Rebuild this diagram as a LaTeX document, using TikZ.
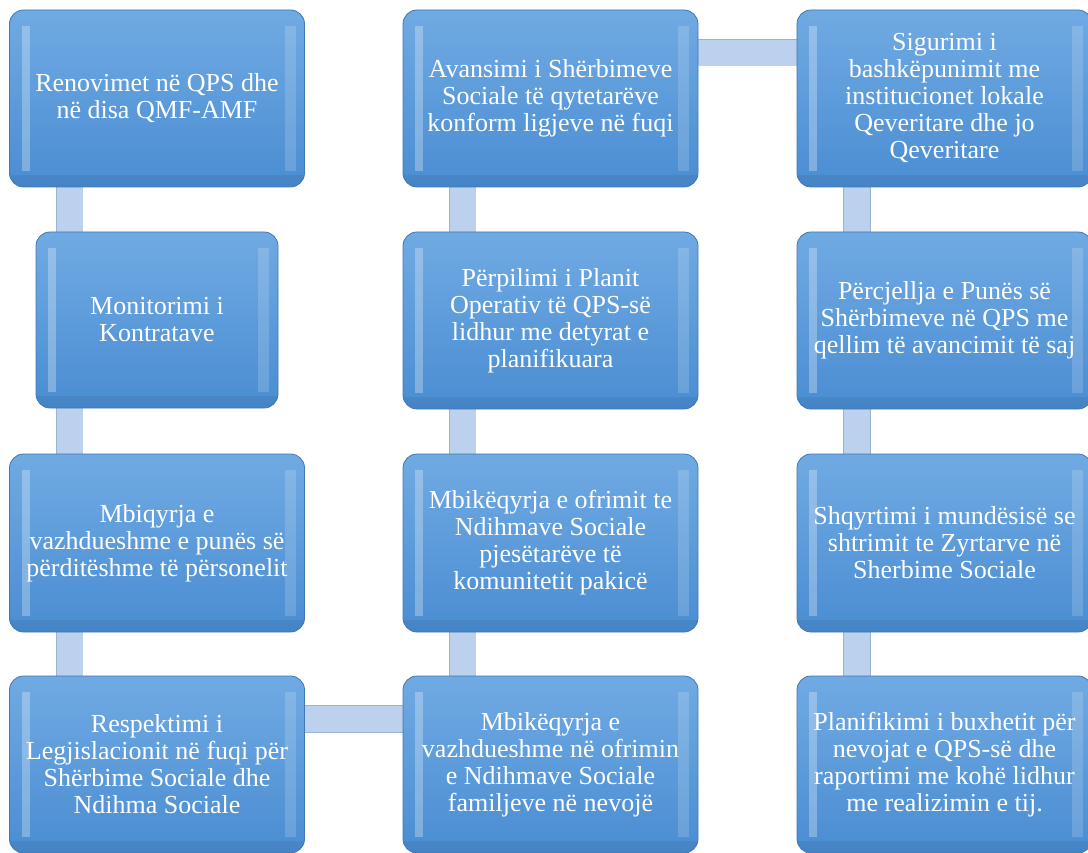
\documentclass[tikz,border=0pt]{standalone}
\usepackage{fontspec}
\setmainfont{Liberation Serif}
\usetikzlibrary{backgrounds}

\definecolor{boxtop}{HTML}{70AAE3}
\definecolor{boxbot}{HTML}{4A8DD2}
\definecolor{boxline}{HTML}{3F78B2}
\definecolor{barfill}{HTML}{BBD1EE}
\definecolor{barline}{HTML}{9AB4D7}

\begin{document}
\begin{tikzpicture}[x=1pt,y=-1pt,
  card/.style={rounded corners=14pt, draw=boxline, line width=0.8pt,
    top color=boxtop, bottom color=boxbot, text=white, align=center,
    inner sep=0pt, font=\fontsize{26}{27}\selectfont,
    minimum width=295pt, minimum height=177pt,
    path picture={
      \fill[sharp corners,white,opacity=0.28] ([xshift=12pt,yshift=-16pt]path picture bounding box.north west) rectangle ([xshift=20pt,yshift=16pt]path picture bounding box.south west);
      \fill[sharp corners,white,opacity=0.16] ([xshift=-20pt,yshift=-16pt]path picture bounding box.north east) rectangle ([xshift=-9pt,yshift=16pt]path picture bounding box.south east);
      \fill[sharp corners,black,opacity=0.06] ([yshift=12pt]path picture bounding box.south west) rectangle (path picture bounding box.south east);
    }},
  bar/.style={draw=barline, line width=0.8pt, double=barfill, double distance=26pt}]
  % page frame
  \clip (0,0) rectangle (1088,853);
  % column lines of the connectors
  \coordinate (k1) at (69.5,0);
  \coordinate (k2) at (462.5,0);
  \coordinate (k3) at (857,0);
  % first column
  \node[card] (r1c1) at (157,98.5) {Renovimet në QPS dhe\\në disa QMF-AMF};
  \node[card, minimum width=242pt, minimum height=176pt] (r2c1) at (157,320) {Monitorimi i\\Kontratave};
  \node[card, minimum height=178pt] (r3c1) at (157,543) {Mbiqyrja e\\vazhdueshme e punës së\\përditëshme të përsonelit};
  \node[card] (r4c1) at (157,764.5) {Respektimi i\\Legjislacionit në fuqi për\\Shërbime Sociale dhe\\Ndihma Sociale};
  % second column
  \node[card] (r1c2) at (550.5,98.5) {Avansimi i Shërbimeve\\Sociale të qytetarëve\\konform ligjeve në fuqi};
  \node[card] (r2c2) at (550.5,320.5) {Përpilimi i Planit\\Operativ të QPS-së\\lidhur me detyrat e\\planifikuara};
  \node[card, minimum height=178pt] (r3c2) at (550.5,543) {Mbikëqyrja e ofrimit te\\Ndihmave Sociale\\pjesëtarëve të\\komunitetit pakicë};
  \node[card] (r4c2) at (550.5,764.5) {Mbikëqyrja e\\vazhdueshme në ofrimin\\e Ndihmave Sociale\\familjeve në nevojë};
  % third column
  \node[card] (r1c3) at (944.5,98.5) {Sigurimi i\\bashkëpunimit me\\institucionet lokale\\Qeveritare dhe jo\\Qeveritare};
  \node[card] (r2c3) at (944.5,320.5) {Përcjellja e Punës së\\Shërbimeve në QPS me\\qellim të avancimit të saj};
  \node[card, minimum height=178pt] (r3c3) at (944.5,543) {Shqyrtimi i mundësisë se\\shtrimit te Zyrtarve në\\Sherbime Sociale};
  \node[card] (r4c3) at (944.5,764.5) {Planifikimi i buxhetit për\\nevojat e QPS-së dhe\\raportimi me kohë lidhur\\me realizimin e tij.};
  % connectors behind the cards
  \begin{scope}[on background layer]
    \draw[bar] (k1 |- r1c1.south) -- (k1 |- r2c1.north);
    \draw[bar] (k1 |- r2c1.south) -- (k1 |- r3c1.north);
    \draw[bar] (k1 |- r3c1.south) -- (k1 |- r4c1.north);
    \draw[bar] ([yshift=-43.5pt]r4c1.north east) -- ([yshift=-43.5pt]r4c2.north west);
    \draw[bar] (k2 |- r4c2.north) -- (k2 |- r3c2.south);
    \draw[bar] (k2 |- r3c2.north) -- (k2 |- r2c2.south);
    \draw[bar] (k2 |- r2c2.north) -- (k2 |- r1c2.south);
    \draw[bar] ([yshift=-43pt]r1c2.north east) -- ([yshift=-43pt]r1c3.north west);
    \draw[bar] (k3 |- r1c3.south) -- (k3 |- r2c3.north);
    \draw[bar] (k3 |- r2c3.south) -- (k3 |- r3c3.north);
    \draw[bar] (k3 |- r3c3.south) -- (k3 |- r4c3.north);
  \end{scope}
\end{tikzpicture}
\end{document}
